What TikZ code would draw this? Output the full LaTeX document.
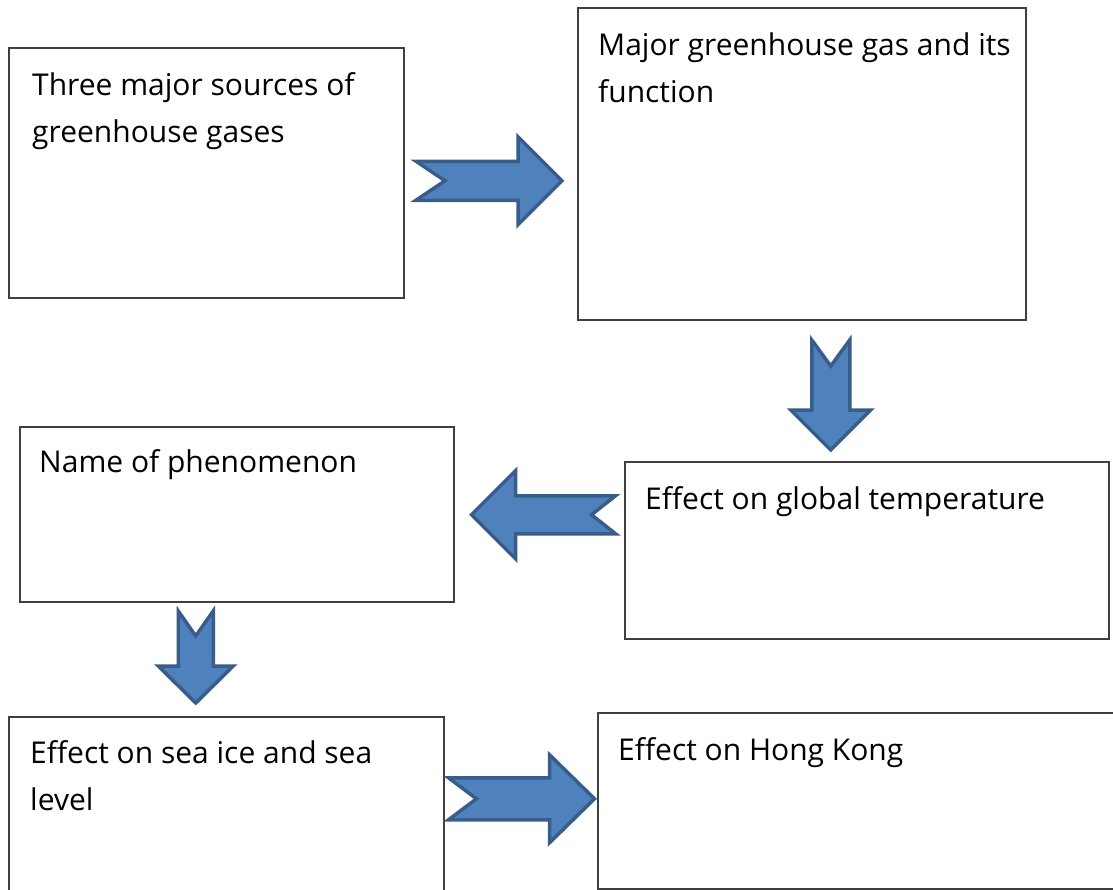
\documentclass[tikz,border=0pt]{standalone}
\usepackage{fontspec}
\setmainfont{Open Sans}
\usetikzlibrary{calc}

\definecolor{arrowblue}{HTML}{4F81BD}
\definecolor{arrowedge}{HTML}{385D8A}
\definecolor{boxedge}{HTML}{3F3F3F}

\tikzset{
  box/.style={draw=boxedge, line width=1.5pt, anchor=north west, inner sep=0pt},
  lbl/.style={anchor=base west, align=left, inner sep=0pt,
    font=\fontsize{30}{47}\selectfont},
  arrowbody/.style={fill=arrowblue, draw=arrowedge, line width=3.5pt, line join=miter},
  % block arrow: length, head length, shaft half width, head half width, notch depth
  pics/blockarr/.style n args={5}{code={
    \draw[arrowbody] (0,#3) -- ({#1-#2},#3) -- ({#1-#2},#4) -- (#1,0)
      -- ({#1-#2},-#4) -- ({#1-#2},-#3) -- (0,-#3) -- (#5,0) -- cycle;
  }}
}

\begin{document}
\begin{tikzpicture}[x=1pt, y=-1pt]
  \fill[white] (0,0) rectangle (1113,889);
  \clip (0,0) rectangle (1113,889);

  % boxes
  \node[box, minimum width=395, minimum height=250] (sources) at (8,47) {};
  \node[box, minimum width=448, minimum height=312] (gas) at (577,7) {};
  \node[box, minimum width=434, minimum height=175] (phen) at (19,426) {};
  \node[box, minimum width=484, minimum height=177] (temp) at (624,461) {};
  \node[box, minimum width=435, minimum height=190] (seaice) at (8,716) {};
  \node[box, minimum width=530, minimum height=176] (hk) at (597,712) {};

  % texts (two-line texts sit on the baseline of their last line)
  \node[lbl] (sourcestxt) at ($(sources.north west)+(24,95)$) {Three major sources of\\greenhouse gases};
  \node[lbl] (gastxt) at ($(gas.north west)+(21,95)$) {Major greenhouse gas and its\\function};
  \node[lbl] (phentxt) at ($(phen.north west)+(20,46)$) {Name of phenomenon};
  \node[lbl] (temptxt) at ($(temp.north west)+(21,48)$) {Effect on global temperature};
  \node[lbl] (seaicetxt) at ($(seaice.north west)+(22,94)$) {Effect on sea ice and sea\\level};
  \node[lbl] (hktxt) at ($(hk.north west)+(21,48)$) {Effect on Hong Kong};

  % arrows
  \pic at ($(sources.east)+(11.5,8)$) {blockarr={146}{44}{19.5}{44}{29}};
  \pic[rotate=-90] at ($(gas.south)+(29,19.5)$) {blockarr={110}{40}{19}{40}{26}};
  \pic[rotate=180] at ($(temp.west)+(-8.5,-35.5)$) {blockarr={144}{44}{19}{44}{24}};
  \pic[rotate=-90] at ($(phen.south)+(-41,8.5)$) {blockarr={92}{37}{17.5}{37.5}{25}};
  \pic at ($(seaice.west)+(440.5,-13)$) {blockarr={146}{45}{21}{44}{28}};
\end{tikzpicture}
\end{document}
